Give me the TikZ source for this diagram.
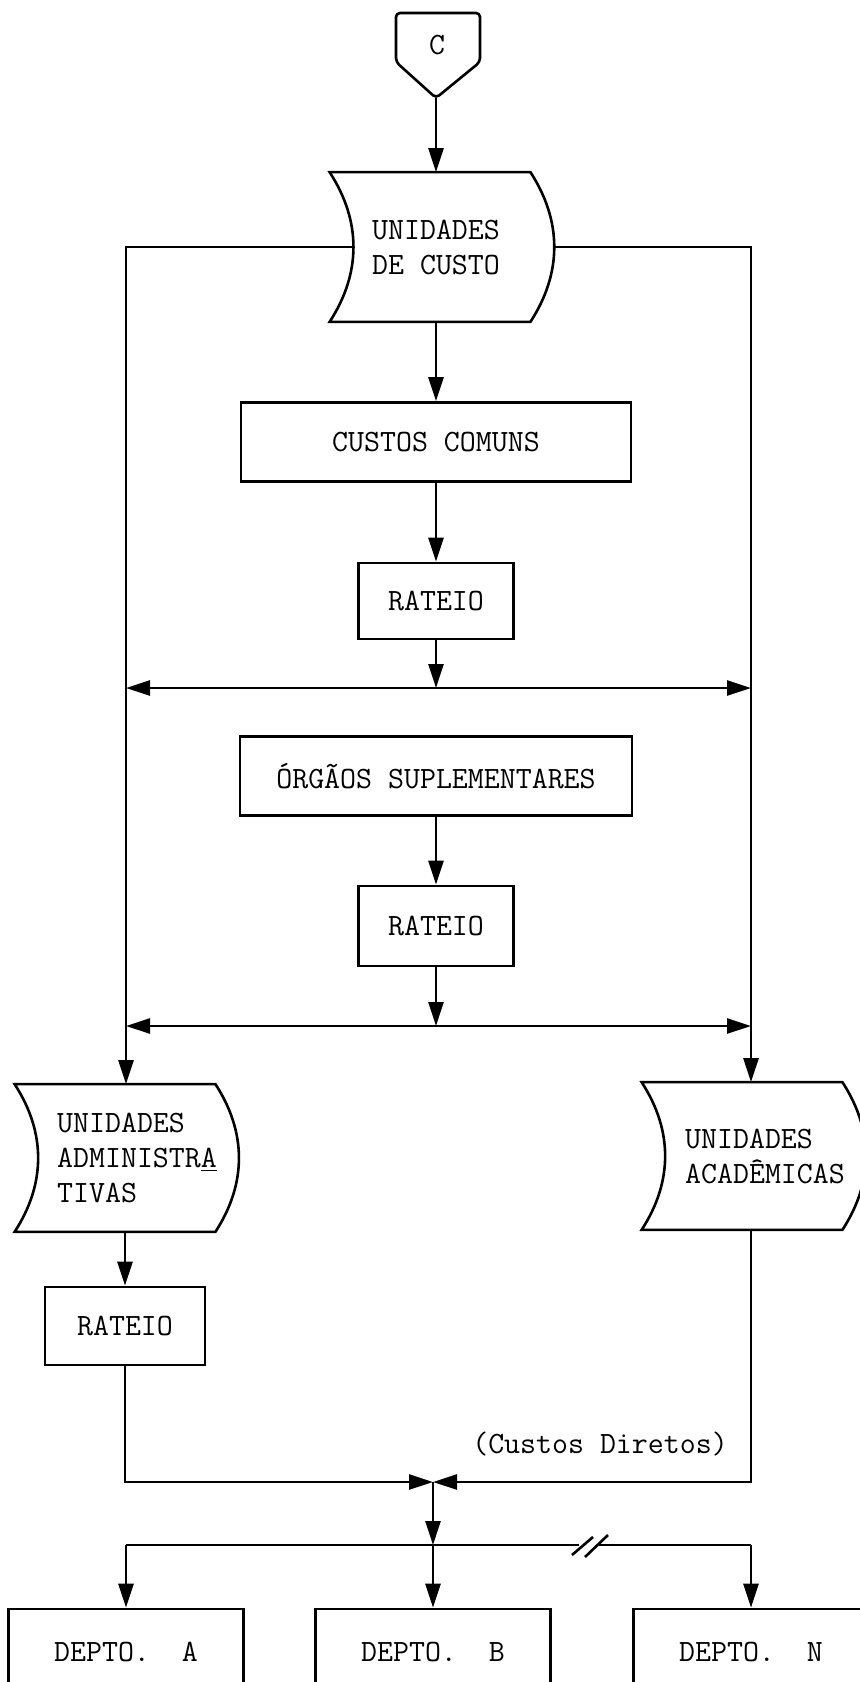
\documentclass[tikz,border=0pt]{standalone}
\usetikzlibrary{arrows.meta,calc}
\newcommand{\flowfont}{\ttfamily\frenchspacing\fontsize{15.5pt}{17.5pt}\selectfont}
% stored data outline round a node, moved left by #2
\newcommand{\drawstore}[2]{%
  \draw[linedecorate] ($(#1.north west)+(-#2,0)$) -- ($(#1.north east)+(-#2,0)$)
    to[bend left=33] coordinate[pos=0.5] (#1-e) ($(#1.south east)+(-#2,0)$)
    -- ($(#1.south west)+(-#2,0)$)
    to[bend right=33] coordinate[pos=0.5] (#1-w) ($(#1.north west)+(-#2,0)$) -- cycle;}
\begin{document}
\begin{tikzpicture}
[x=0.5pt,y=-0.5pt,>={Triangle[length=12pt,width=7.5pt]},
  every node/.style={font=\flowfont},
  boxdecorate/.style={shape=rectangle,draw,line width=1.3pt,inner sep=0pt},
  storedecorate/.style={shape=rectangle,inner sep=0pt,align=left,minimum width=100pt,minimum height=73.5pt},
  linedecorate/.style={line width=1.3pt},
  arrowdecorate/.style={->,line width=1.3pt},
  twoarrow/.style={<->,line width=1.3pt}]
\useasboundingbox (0,0) rectangle (860,1682);
%% connector C
\node (conn) at (437,45) {C};
\coordinate (tip) at (436,98);
\draw[linedecorate,rounded corners=2pt] (396,62) -- (396,13) -- (480,13) -- (480,62) -- (tip) -- cycle;
%% stored data
\node (ucusto) at (436,247) [storedecorate,minimum height=74.5pt] {UNIDADES\\DE CUSTO};
\node (uadm) at (137,1158) [storedecorate] {UNIDADES\\ADMINISTR\underline{A}\\TIVAS};
\node (uacad) at (765,1156) [storedecorate] {UNIDADES\\ACADÊMICAS};
\drawstore{ucusto}{6}
\drawstore{uadm}{22}
\drawstore{uacad}{23}
%% boxes
\node (ccomuns) at (436,442) [boxdecorate,minimum width=195pt,minimum height=39.5pt] {CUSTOS COMUNS};
\node (rateioa) at (436,601) [boxdecorate,minimum width=77.5pt,minimum height=38pt] {RATEIO};
\node (orgaos) at (436,776) [boxdecorate,minimum width=196pt,minimum height=39.5pt] {ÓRGÃOS SUPLEMENTARES};
\node (rateiob) at (436,926) [boxdecorate,minimum width=77.5pt,minimum height=40pt] {RATEIO};
\node (rateioc) at (125,1326) [boxdecorate,minimum width=80pt,minimum height=39pt] {RATEIO};
\foreach \nodename/\x/\letra in {depa/126/A, depb/433/B, depn/751/N}
{
  \node (\nodename) at (\x,1652) [boxdecorate,minimum width=117.5pt,minimum height=43pt] {DEPTO.~~\letra};
}
\node (diretos) at (600,1444) {(Custos Diretos)};
%% points on the lines
\coordinate (lt) at (126,247);
\coordinate (rt) at (751,247);
\coordinate (la) at (126,688);
\coordinate (ra) at (751,688);
\coordinate (lb) at (126,1026);
\coordinate (rb) at (751,1026);
\coordinate (mg) at (433,1482);
\coordinate (dv) at (433,1545);
\coordinate (sla) at (579,1545);
\coordinate (slb) at (599,1545);
%% edges
\draw[arrowdecorate] (tip) -- (ucusto);
\draw[arrowdecorate] (ucusto-w) -- (ucusto-w -| lt) -- (lt |- uadm.north);
\draw[arrowdecorate] (ucusto-e) -- (ucusto-e -| rt) -- (rt |- uacad.north);
\draw[arrowdecorate] (ucusto) -- (ccomuns);
\draw[arrowdecorate] (ccomuns) -- (rateioa);
\draw[arrowdecorate] (rateioa) -- (rateioa |- la);
\draw[twoarrow] (la) -- (ra);
\draw[arrowdecorate] (orgaos) -- (rateiob);
\draw[arrowdecorate] (rateiob) -- (rateiob |- lb);
\draw[twoarrow] (lb) -- (rb);
\draw[arrowdecorate] (rateioc.north |- uadm.south) -- (rateioc);
\draw[arrowdecorate] (rateioc) |- (mg);
\draw[arrowdecorate] (rt |- uacad.south) |- (mg);
\draw[arrowdecorate] (mg) -- (dv);
\draw[linedecorate] (depa |- dv) -- (sla) (slb) -- (depn |- dv);
\draw[linedecorate] ($(sla)+(-7,10)$) -- ($(sla)+(14,-8)$);
\draw[linedecorate] ($(slb)+(-14,12)$) -- ($(slb)+(9,-10)$);
\foreach \nodename in {depa, depb, depn}
{
  \draw[arrowdecorate] (\nodename |- dv) -- (\nodename);
}
\end{tikzpicture}
\end{document}
